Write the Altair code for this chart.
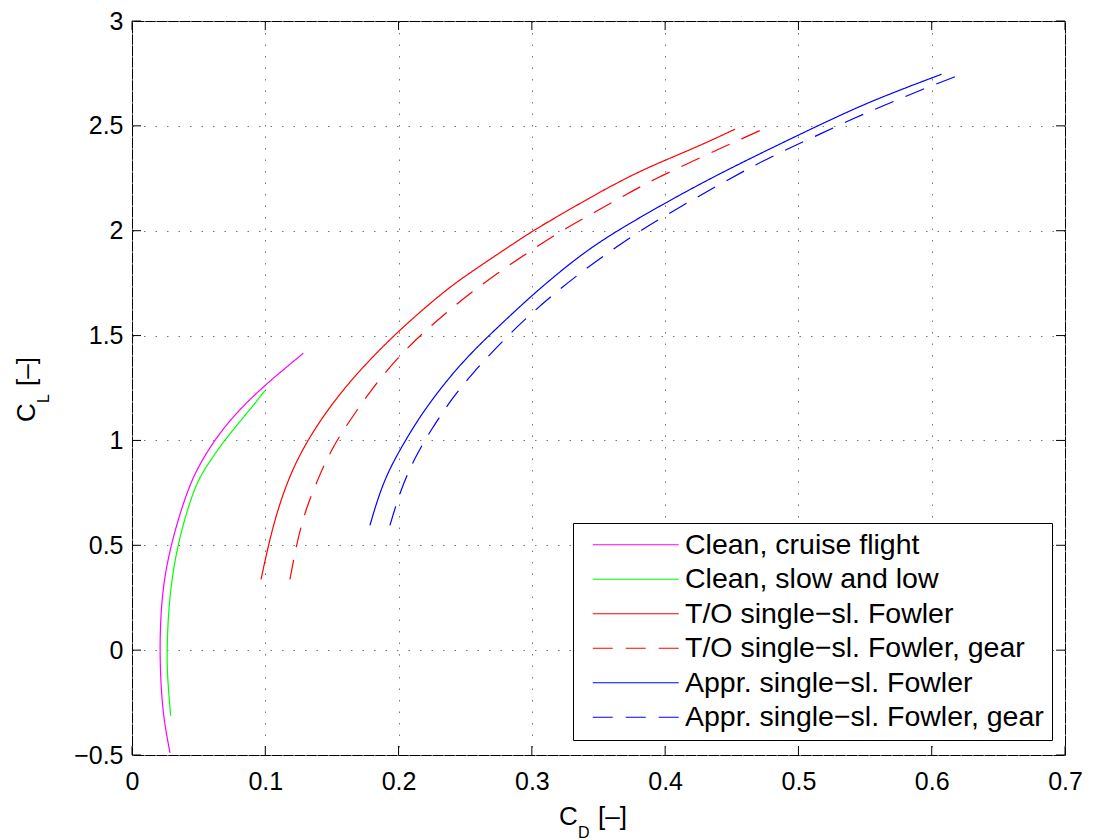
import altair as alt
import pandas as pd

# ---- data ----
series_names = [
    "Clean, cruise flight",
    "Clean, slow and low",
    "T/O single\u2212sl. Fowler",
    "T/O single\u2212sl. Fowler, gear",
    "Appr. single\u2212sl. Fowler",
    "Appr. single\u2212sl. Fowler, gear",
]
series_colors = ["#ff00ff", "#00ff00", "#ff0000", "#ff0000", "#0000ff", "#0000ff"]
series_dash = [[1, 0], [1, 0], [1, 0], [20, 13], [1, 0], [20, 13]]

cruise_cd = [0.0285, 0.0248, 0.0223, 0.0205, 0.0223, 0.0298, 0.0422, 0.0523, 0.066, 0.0835, 0.0998, 0.106, 0.1285]
cruise_cl = [-0.49, -0.365, -0.238, 0.0, 0.286, 0.524, 0.778, 0.905, 1.04, 1.167, 1.262, 1.297, 1.416]

slow_cd = [0.029, 0.0267, 0.026, 0.028, 0.0347, 0.046, 0.0535, 0.071, 0.086, 0.0998]
slow_cl = [-0.313, -0.143, 0.0, 0.27, 0.524, 0.762, 0.857, 1.016, 1.127, 1.238]

to_cd = [0.0968, 0.102, 0.109, 0.121, 0.1398, 0.1635, 0.197, 0.236, 0.256, 0.2986, 0.316, 0.346, 0.3786, 0.406, 0.431, 0.4524]
to_cl = [0.337, 0.492, 0.667, 0.881, 1.087, 1.286, 1.508, 1.722, 1.81, 1.992, 2.056, 2.167, 2.278, 2.352, 2.42, 2.484]

to_gear_cd = [0.1185, 0.1235, 0.130, 0.140, 0.151, 0.166, 0.181, 0.1985, 0.2173, 0.236, 0.257, 0.2786, 0.2998, 0.3223, 0.346, 0.3698, 0.392, 0.416, 0.44, 0.457, 0.475]
to_gear_cl = [0.337, 0.508, 0.667, 0.825, 0.976, 1.119, 1.254, 1.389, 1.508, 1.611, 1.718, 1.817, 1.908, 2.0, 2.084, 2.17, 2.246, 2.317, 2.389, 2.437, 2.489]

appr_cd = [0.1785, 0.1885, 0.2035, 0.2173, 0.236, 0.256, 0.281, 0.2986, 0.3186, 0.341, 0.366, 0.3986, 0.4236, 0.4536, 0.4986, 0.5286, 0.561, 0.6074]
appr_cl = [0.595, 0.81, 0.984, 1.127, 1.286, 1.429, 1.579, 1.683, 1.792, 1.905, 2.008, 2.127, 2.214, 2.313, 2.452, 2.543, 2.635, 2.746]

appr_gear_cd = [0.1935, 0.201, 0.211, 0.2248, 0.2398, 0.256, 0.2748, 0.2935, 0.3136, 0.3336, 0.3548, 0.3773, 0.3998, 0.4224, 0.4449, 0.4686, 0.4924, 0.516, 0.54, 0.565, 0.59, 0.6224]
appr_gear_cl = [0.595, 0.754, 0.905, 1.056, 1.198, 1.325, 1.452, 1.571, 1.683, 1.786, 1.884, 1.984, 2.071, 2.154, 2.235, 2.317, 2.392, 2.46, 2.532, 2.599, 2.667, 2.746]

x_ticks = [0, 0.1, 0.2, 0.3, 0.4, 0.5, 0.6, 0.7]
y_ticks = [-0.5, 0, 0.5, 1, 1.5, 2, 2.5, 3]

# ---- build table ----
all_cd = [cruise_cd, slow_cd, to_cd, to_gear_cd, appr_cd, appr_gear_cd]
all_cl = [cruise_cl, slow_cl, to_cl, to_gear_cl, appr_cl, appr_gear_cl]
rows = []
for name, cds, cls in zip(series_names, all_cd, all_cl):
    for i, (cd, cl) in enumerate(zip(cds, cls)):
        rows.append({"series": name, "cd": cd, "cl": cl, "i": i})
df = pd.DataFrame(rows)

W, H = 933, 734
FONT = "Liberation Sans"
TICK = 9

xscale = alt.Scale(domain=[0, 0.7], nice=False, zero=False)
yscale = alt.Scale(domain=[-0.5, 3], nice=False, zero=False)

leg = alt.Legend(orient="none", legendX=441, legendY=502,
                 title=None, fillColor="white", strokeColor="black",
                 padding=7.5, symbolType="M-4.3,0H4.3", symbolSize=400,
                 symbolOffset=41, labelOffset=35, labelFont=FONT,
                 labelFontSize=28.5, labelColor="black", rowPadding=5.5,
                 symbolStrokeWidth=1.2, labelLimit=0)

lines = alt.Chart(df).mark_line(strokeWidth=1.2, clip=False, interpolate="basis").encode(
    x=alt.X("cd:Q", scale=xscale, title=None,
            axis=alt.Axis(values=x_ticks, format="~g", title=None, labelPadding=14)),
    y=alt.Y("cl:Q", scale=yscale, title=None,
            axis=alt.Axis(values=y_ticks, format="~g", title=None, labelPadding=9)),
    color=alt.Color("series:N",
                    scale=alt.Scale(domain=series_names, range=series_colors),
                    sort=series_names, legend=leg),
    strokeDash=alt.StrokeDash("series:N",
                              scale=alt.Scale(domain=series_names, range=series_dash),
                              sort=series_names, legend=leg),
    order="i:Q",
)

xt = pd.DataFrame({"v": x_ticks})
yt = pd.DataFrame({"v": y_ticks})
tick_bottom = alt.Chart(xt).mark_rule(color="black", strokeWidth=1).encode(
    x=alt.X("v:Q", scale=xscale, title=None), y=alt.value(H), y2=alt.value(H - TICK))
tick_top = alt.Chart(xt).mark_rule(color="black", strokeWidth=1).encode(
    x=alt.X("v:Q", scale=xscale, title=None), y=alt.value(0), y2=alt.value(TICK))
tick_left = alt.Chart(yt).mark_rule(color="black", strokeWidth=1).encode(
    y=alt.Y("v:Q", scale=yscale, title=None), x=alt.value(0), x2=alt.value(TICK))
tick_right = alt.Chart(yt).mark_rule(color="black", strokeWidth=1).encode(
    y=alt.Y("v:Q", scale=yscale, title=None), x=alt.value(W), x2=alt.value(W - TICK))

one = pd.DataFrame({"a": [0]})


def label(txt, x, y, size, angle=0):
    return alt.Chart(one).mark_text(text=txt, font=FONT, fontSize=size, color="black",
                                    align="left", baseline="alphabetic", angle=angle).encode(
        x=alt.value(x), y=alt.value(y))


# x title: C_D [–]
xt_c = label("C", 427, 804, 26)
xt_d = label("D", 446, 817, 16)
xt_r = label("[\u2013]", 466, 804, 26)
# y title: C_L [–] rotated
yt_c = label("C", -97, 401, 26, 270)
yt_l = label("L", -83, 382, 16, 270)
yt_r = label("[\u2013]", -97, 365, 26, 270)

chart = alt.layer(
    lines, tick_bottom, tick_top, tick_left, tick_right,
    xt_c, xt_d, xt_r, yt_c, yt_l, yt_r,
).properties(
    width=W, height=H,
    autosize=alt.AutoSizeParams(type="none"),
    padding={"left": 124, "top": 13, "right": 20, "bottom": 85},
).configure(
    background="white"
).configure_view(
    stroke="black", strokeWidth=1
).configure_axis(
    grid=True, ticks=False, domain=False,
    labelFontSize=25, labelFont=FONT, labelColor="black",
    gridDash=[1.5, 10], gridColor="#777", gridWidth=1, gridOpacity=1,
    labelFlush=False, labelOverlap=False,
)

chart.save("out.html", embed_options={"renderer": "svg", "actions": False})
